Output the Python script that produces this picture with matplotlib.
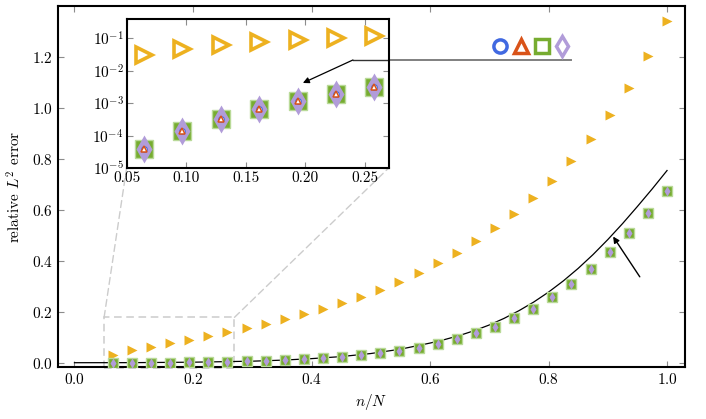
import matplotlib
matplotlib.use("Agg")
import matplotlib.pyplot as plt
from matplotlib.lines import Line2D
from matplotlib.patches import Rectangle, ConnectionPatch

plt.rcParams["font.family"] = "serif"
plt.rcParams["font.serif"] = ["cmr10", "DejaVu Serif"]
plt.rcParams["mathtext.fontset"] = "cm"
plt.rcParams["axes.formatter.use_mathtext"] = True

# sample index n out of N
N = 31
n = [2, 3, 4, 5, 6, 7, 8, 9, 10, 11, 12, 13, 14, 15, 16,
     17, 18, 19, 20, 21, 22, 23, 24, 25, 26, 27, 28, 29, 30, 31]
x_pts = [k / N for k in n]

# orange right-triangles (upper series)
err_upper = [0.031, 0.048, 0.062, 0.078, 0.091, 0.105, 0.119, 0.135, 0.151, 0.170,
             0.190, 0.211, 0.234, 0.259, 0.287, 0.318, 0.352, 0.390, 0.431, 0.476,
             0.527, 0.584, 0.646, 0.714, 0.791, 0.876, 0.971, 1.078, 1.202, 1.340]

# circle / triangle / square / diamond series (all overlap)
err_lower = [4.0e-5, 1.4e-4, 3.3e-4, 6.6e-4, 1.15e-3, 1.95e-3, 3.1e-3, 4.8e-3, 7.2e-3, 0.0102,
             0.0138, 0.018, 0.023, 0.029, 0.037, 0.047, 0.059, 0.074, 0.092, 0.115,
             0.141, 0.174, 0.211, 0.256, 0.307, 0.367, 0.434, 0.508, 0.589, 0.672]

# reference curve
x_ref = [0.0, 0.1, 0.2, 0.3, 0.35, 0.4, 0.45, 0.5, 0.55, 0.6, 0.625, 0.65, 0.675,
         0.7, 0.725, 0.75, 0.775, 0.8, 0.825, 0.85, 0.875, 0.9, 0.925, 0.95, 0.975, 1.0]
y_ref = [0.0, 0.0003, 0.002, 0.006, 0.010, 0.016, 0.024, 0.036, 0.053, 0.077, 0.091,
         0.107, 0.126, 0.148, 0.174, 0.204, 0.238, 0.277, 0.321, 0.370, 0.424,
         0.483, 0.546, 0.613, 0.682, 0.754]

n_inset = 7  # first points shown in the zoom

YELLOW = "#edb120"
GREEN = "#77ac30"
GREEN_EDGE = "#b9da98"
PURPLE = "#b19cd9"
BLUE = "#4169e1"
RED = "#d95319"

fig = plt.figure(figsize=(7.06, 4.19), dpi=100)
ax = fig.add_axes([0.082, 0.124, 0.888, 0.862])

ax.plot(x_ref, y_ref, color="k", lw=0.9, zorder=2)
ax.plot(x_pts, err_upper, ">", color=YELLOW, ms=7, mec="none", zorder=3)
ax.plot(x_pts, err_lower, "s", color=GREEN, ms=7.5, mec=GREEN_EDGE, mew=1, zorder=3)
ax.plot(x_pts, err_lower, "o", color=BLUE, ms=3, mec="none", zorder=3)
ax.plot(x_pts, err_lower, "^", color=RED, ms=3, mec="none", zorder=3)
ax.plot(x_pts, err_lower, "d", color=PURPLE, ms=5.5, mec="none", zorder=3)

ax.set_xlim(-0.028, 1.03)
ax.set_ylim(-0.017, 1.40)
ax.set_xticks([0.0, 0.2, 0.4, 0.6, 0.8, 1.0])
ax.set_yticks([0.0, 0.2, 0.4, 0.6, 0.8, 1.0, 1.2])
ax.tick_params(direction="in", top=True, right=True, length=4, width=0.8,
               color="0.55", labelsize=11)
for s in ax.spines.values():
    s.set_linewidth(1.5)
ax.set_xlabel("$n/N$", fontsize=11, labelpad=4)
ax.set_ylabel("relative $L^2$ error", fontsize=11, labelpad=6)

# marker legend without labels
handles = [
    Line2D([], [], ls="none", marker="o", ms=9.5, mfc="white", mec=BLUE, mew=2.5),
    Line2D([], [], ls="none", marker="^", ms=10.5, mfc="white", mec=RED, mew=2.5),
    Line2D([], [], ls="none", marker="s", ms=9.5, mfc="white", mec=GREEN, mew=2.5),
    Line2D([], [], ls="none", marker="d", ms=10.5, mfc="white", mec=PURPLE, mew=2.5),
]
ax.legend(handles, [""] * 4, ncol=4, loc="center", bbox_to_anchor=(0.755, 0.884),
          frameon=False, handlelength=1.0, handletextpad=0.0, columnspacing=0.5,
          borderpad=0, numpoints=1)

# pointer from legend into the inset
ax.plot([0.838, 0.50], [1.189, 1.189], color="0.5", lw=1.4, zorder=2)

# arrow onto the reference curve
ax.annotate("", xy=(0.909, 0.495), xytext=(0.954, 0.337),
            arrowprops=dict(arrowstyle="-|>", color="k", lw=1.0,
                            mutation_scale=9, shrinkA=0, shrinkB=0))

# zoom box
x0, x1, y0, y1 = 0.05, 0.27, -0.02, 0.178
ax.add_patch(Rectangle((x0, y0), x1 - x0, y1 - y0, fill=False, ec="#cccccc",
                       lw=1.1, ls=(0, (5, 3)), zorder=1, clip_on=False))

axin = ax.inset_axes([0.1096, 0.551, 0.418, 0.413])
axin.set_yscale("log")
axin.plot(x_pts[:n_inset], err_upper[:n_inset], ">", ms=11, mfc="white",
          mec=YELLOW, mew=2.6)
axin.plot(x_pts[:n_inset], err_lower[:n_inset], "s", color=GREEN, ms=13.5,
          mec=GREEN_EDGE, mew=1)
axin.plot(x_pts[:n_inset], err_lower[:n_inset], "d", color=PURPLE, ms=14, mec="none")
axin.plot(x_pts[:n_inset], err_lower[:n_inset], "o", ms=4, mfc="white", mec=BLUE, mew=0.8)
axin.plot(x_pts[:n_inset], err_lower[:n_inset], "^", ms=5, mfc="white", mec=RED, mew=1.1)
axin.set_xlim(0.05, 0.27)
axin.set_ylim(1e-5, 10 ** -0.4)
axin.set_xticks([0.05, 0.10, 0.15, 0.20, 0.25])
axin.set_xticklabels(["0.05", "0.10", "0.15", "0.20", "0.25"])
axin.set_yticks([1e-5, 1e-4, 1e-3, 1e-2, 1e-1])
axin.minorticks_off()
axin.tick_params(direction="in", top=True, right=True, length=4, width=0.8,
                 color="0.55", labelsize=11, pad=2)
for s in axin.spines.values():
    s.set_linewidth(1.5)

axin.plot([0.240, 0.27], [0.0215, 0.0215], color="0.2", lw=1.0)
axin.annotate("", xy=(0.198, 0.0042), xytext=(0.240, 0.0215),
              arrowprops=dict(arrowstyle="-|>", color="k", lw=0.9,
                              mutation_scale=9, shrinkA=0, shrinkB=0))

for xa, xb in [(x0, 0.0), (x1, 1.0)]:
    con = ConnectionPatch(xyA=(xa, y1), coordsA=ax.transData,
                          xyB=(xb, 0.0), coordsB=axin.transAxes,
                          color="#cccccc", lw=1.0, ls=(0, (5, 3)), zorder=1)
    ax.add_artist(con)

fig.savefig("out.png", dpi=100)
